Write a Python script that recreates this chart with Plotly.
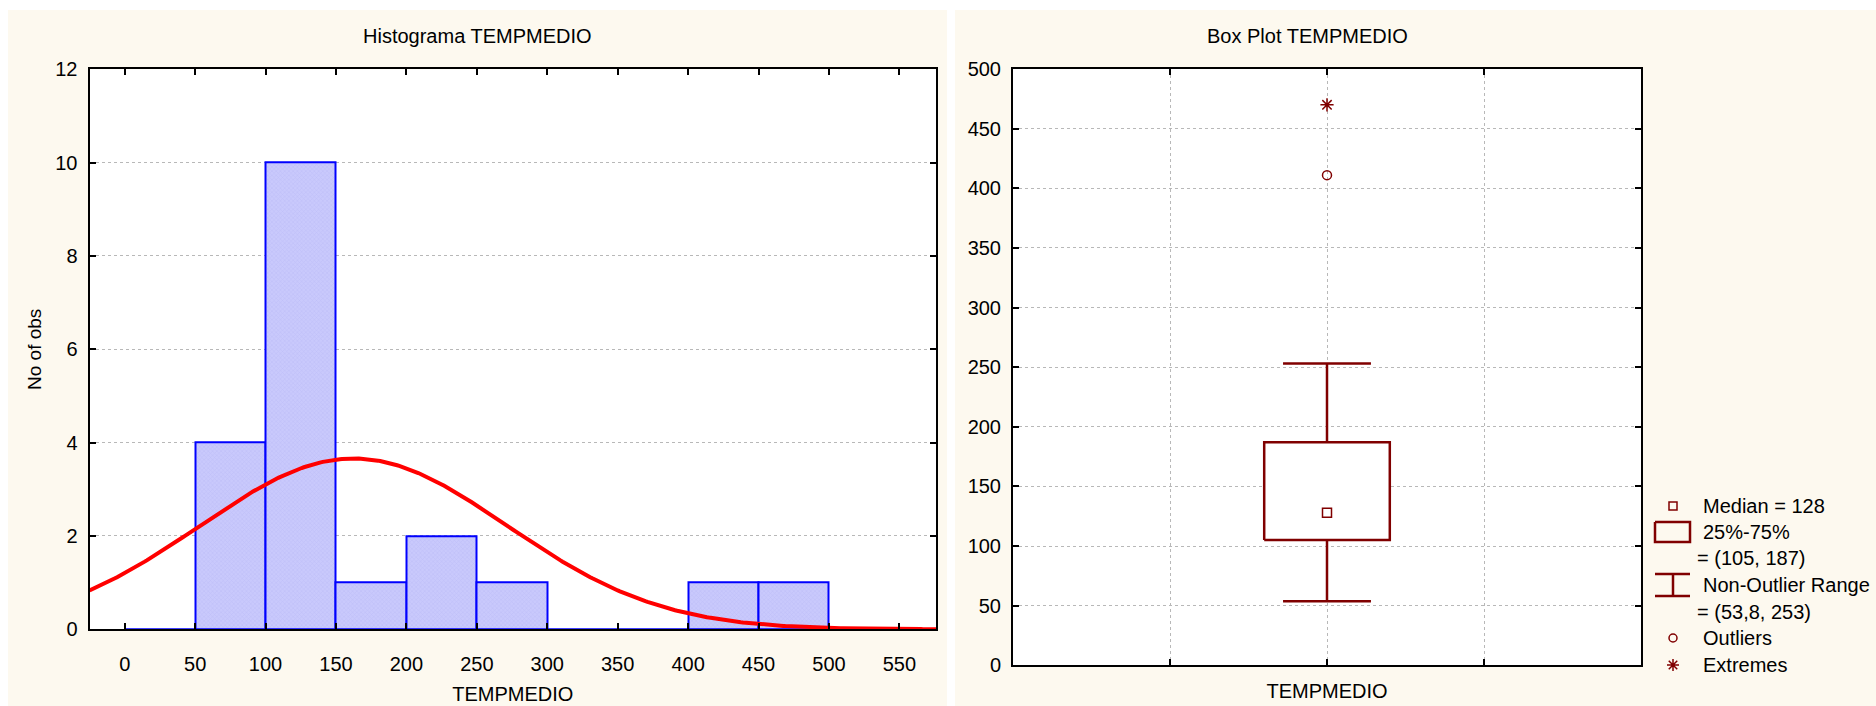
import numpy as np
import plotly.graph_objects as go

# ---- data -------------------------------------------------------------
var_name = "TEMPMEDIO"

# histogram: left edge of each 50-wide class and its count
bin_left = [0, 50, 100, 150, 200, 250, 300, 350, 400, 450, 500]
bin_count = [0, 4, 10, 1, 2, 1, 0, 0, 1, 1, 0]
bin_width = 50

# fitted normal curve parameters
fit_mean = 162.5
fit_sd = 109.0

# box plot summary
box_median = 128
box_q1 = 105
box_q3 = 187
whisker_low = 53.8
whisker_high = 253
outliers = [411]
extremes = [470]

hist_xticks = [0, 50, 100, 150, 200, 250, 300, 350, 400, 450, 500, 550]
hist_yticks = [0, 2, 4, 6, 8, 10, 12]
box_yticks = [0, 50, 100, 150, 200, 250, 300, 350, 400, 450, 500]

legend_lines = [
    "Median = 128",
    "25%-75%",
    "= (105, 187)",
    "Non-Outlier Range",
    "= (53,8, 253)",
    "Outliers",
    "Extremes",
]

# ---- style ------------------------------------------------------------
W, H = 1876, 706
FONT = "Liberation Sans, Arial, sans-serif"
MAROON = "#800000"
CREAM = "#fdf9ef"
GRID = "#b8b8b8"
BOX_HALF = 0.4
CAP_HALF = 0.28


def px_x(v):
    return v / W


def px_y(v):
    return 1 - v / H


fig = go.Figure()

# histogram bars
fig.add_trace(go.Bar(
    x=bin_left, y=bin_count, width=bin_width, offset=0,
    marker=dict(
        color="#c6c6fb",
        line=dict(color="#0000ff", width=2),
        pattern=dict(shape="x", size=3, solidity=0.15,
                     fgcolor="#9c9cee", bgcolor="#c9c9fc"),
    ),
    xaxis="x", yaxis="y", showlegend=False, hoverinfo="skip",
))

# fitted normal curve scaled to counts
n_obs = sum(bin_count)
xs = np.linspace(-25, 576, 400)
ys = n_obs * bin_width * np.exp(-0.5 * ((xs - fit_mean) / fit_sd) ** 2) / (fit_sd * np.sqrt(2 * np.pi))
fig.add_trace(go.Scatter(
    x=xs, y=ys, mode="lines", line=dict(color="#ff0000", width=4),
    xaxis="x", yaxis="y", showlegend=False, hoverinfo="skip",
))

# box plot: whiskers, caps, box, median, outliers, extremes
line_style = dict(color=MAROON, width=2.5)
fig.add_trace(go.Scatter(
    x=[0, 0, None, 0, 0, None, -CAP_HALF, CAP_HALF, None, -CAP_HALF, CAP_HALF],
    y=[whisker_low, box_q1, None, box_q3, whisker_high, None,
       whisker_low, whisker_low, None, whisker_high, whisker_high],
    mode="lines", line=line_style, xaxis="x2", yaxis="y2",
    showlegend=False, hoverinfo="skip",
))
fig.add_trace(go.Scatter(
    x=[-BOX_HALF, BOX_HALF, BOX_HALF, -BOX_HALF, -BOX_HALF],
    y=[box_q1, box_q1, box_q3, box_q3, box_q1],
    mode="lines", fill="toself", fillcolor="white", line=line_style,
    xaxis="x2", yaxis="y2", showlegend=False, hoverinfo="skip",
))
fig.add_trace(go.Scatter(
    x=[0], y=[box_median], mode="markers",
    marker=dict(symbol="square-open", size=9, color=MAROON, line=dict(width=1.5)),
    xaxis="x2", yaxis="y2", showlegend=False, hoverinfo="skip",
))
fig.add_trace(go.Scatter(
    x=[0] * len(outliers), y=outliers, mode="markers",
    marker=dict(symbol="circle-open", size=9, color=MAROON, line=dict(width=1.5)),
    xaxis="x2", yaxis="y2", showlegend=False, hoverinfo="skip",
))
fig.add_trace(go.Scatter(
    x=[0] * len(extremes), y=extremes, mode="markers",
    marker=dict(symbol="asterisk-open", size=11, color=MAROON, line=dict(width=1.5)),
    xaxis="x2", yaxis="y2", showlegend=False, hoverinfo="skip",
))

# ---- legend for the box plot (pixel-space helper axis) ------------------
LX_ICON = 1673
LX_TEXT = 1701
LX_TEXT_EQ = 1695
row_y = [506, 532, 558, 585, 612, 638, 665]

fig.add_trace(go.Scatter(
    x=[LX_ICON], y=[row_y[0]], mode="markers",
    marker=dict(symbol="square-open", size=8, color=MAROON, line=dict(width=1.5)),
    xaxis="x3", yaxis="y3", showlegend=False, hoverinfo="skip",
))
fig.add_trace(go.Scatter(
    x=[1655, 1690, 1690, 1655, 1655],
    y=[row_y[1] - 10, row_y[1] - 10, row_y[1] + 10, row_y[1] + 10, row_y[1] - 10],
    mode="lines", line=line_style, xaxis="x3", yaxis="y3",
    showlegend=False, hoverinfo="skip",
))
fig.add_trace(go.Scatter(
    x=[1655, 1690, None, 1655, 1690, None, LX_ICON, LX_ICON],
    y=[row_y[3] - 11, row_y[3] - 11, None, row_y[3] + 11, row_y[3] + 11, None,
       row_y[3] - 11, row_y[3] + 11],
    mode="lines", line=line_style, xaxis="x3", yaxis="y3",
    showlegend=False, hoverinfo="skip",
))
fig.add_trace(go.Scatter(
    x=[LX_ICON], y=[row_y[5]], mode="markers",
    marker=dict(symbol="circle-open", size=8, color=MAROON, line=dict(width=1.5)),
    xaxis="x3", yaxis="y3", showlegend=False, hoverinfo="skip",
))
fig.add_trace(go.Scatter(
    x=[LX_ICON], y=[row_y[6]], mode="markers",
    marker=dict(symbol="asterisk-open", size=10, color=MAROON, line=dict(width=1.5)),
    xaxis="x3", yaxis="y3", showlegend=False, hoverinfo="skip",
))

annotations = []
for txt, yy in zip(legend_lines, row_y):
    x0 = LX_TEXT_EQ if txt.startswith("=") else LX_TEXT
    annotations.append(dict(
        x=x0, y=yy, xref="x3", yref="y3", text=txt, showarrow=False,
        xanchor="left", yanchor="middle", font=dict(family=FONT, size=20, color="black"),
    ))

# panel titles
annotations.append(dict(
    x=px_x(477), y=px_y(36), xref="paper", yref="paper",
    text="Histograma " + var_name, showarrow=False,
    xanchor="center", yanchor="middle", font=dict(family=FONT, size=20, color="black"),
))
annotations.append(dict(
    x=px_x(1307), y=px_y(36), xref="paper", yref="paper",
    text="Box Plot " + var_name, showarrow=False,
    xanchor="center", yanchor="middle", font=dict(family=FONT, size=20, color="black"),
))

# ---- panel backgrounds -------------------------------------------------
shapes = [
    dict(type="rect", xref="paper", yref="paper", layer="below",
         x0=px_x(8), x1=px_x(947), y0=0, y1=px_y(10),
         fillcolor=CREAM, line=dict(width=0)),
    dict(type="rect", xref="paper", yref="paper", layer="below",
         x0=px_x(955), x1=1, y0=0, y1=px_y(10),
         fillcolor=CREAM, line=dict(width=0)),
    dict(type="rect", xref="x domain", yref="y domain", layer="below",
         x0=0, x1=1, y0=0, y1=1, fillcolor="white", line=dict(width=0)),
    dict(type="rect", xref="x2 domain", yref="y2 domain", layer="below",
         x0=0, x1=1, y0=0, y1=1, fillcolor="white", line=dict(width=0)),
]

axis_common = dict(
    showline=True, linecolor="black", linewidth=2, mirror="allticks",
    ticks="inside", ticklen=6, tickwidth=2, tickcolor="black",
    zeroline=False, automargin=False,
    tickfont=dict(family=FONT, size=20, color="black"),
)

fig.update_layout(
    width=W, height=H, autosize=False,
    margin=dict(l=0, r=0, t=0, b=0, pad=0),
    paper_bgcolor="white", plot_bgcolor="rgba(0,0,0,0)",
    font=dict(family=FONT, color="black"),
    showlegend=False, bargap=0,
    shapes=shapes, annotations=annotations,
    xaxis=dict(
        domain=[px_x(89.5), px_x(936)], range=[-25, 576], anchor="y",
        tickvals=hist_xticks, showgrid=False, ticklabelstandoff=16,
        title=dict(text=var_name, font=dict(family=FONT, size=20), standoff=13),
        **axis_common,
    ),
    yaxis=dict(
        domain=[px_y(629.3), px_y(69.3)], range=[0, 12], anchor="x",
        tickvals=hist_yticks, showgrid=True, gridcolor=GRID, griddash="dot", gridwidth=1,
        ticklabelstandoff=6,
        title=dict(text="No of obs", font=dict(family=FONT, size=19), standoff=9),
        **axis_common,
    ),
    xaxis2=dict(
        domain=[px_x(1013), px_x(1641)], range=[-2, 2], anchor="y2",
        tickvals=[-1, 0, 1], ticktext=["", var_name, ""], ticklabelstandoff=7,
        showgrid=True, gridcolor=GRID, griddash="dot", gridwidth=1,
        **axis_common,
    ),
    yaxis2=dict(
        domain=[px_y(665.3), px_y(69)], range=[0, 500], anchor="x2",
        tickvals=box_yticks, showgrid=True, gridcolor=GRID, griddash="dot", gridwidth=1,
        ticklabelstandoff=6,
        **axis_common,
    ),
    xaxis3=dict(domain=[px_x(1641), 1], range=[1641, 1876], anchor="y3",
                visible=False, automargin=False),
    yaxis3=dict(domain=[0, 1], range=[706, 0], anchor="x3",
                visible=False, automargin=False),
)

fig.write_html("out.html")
